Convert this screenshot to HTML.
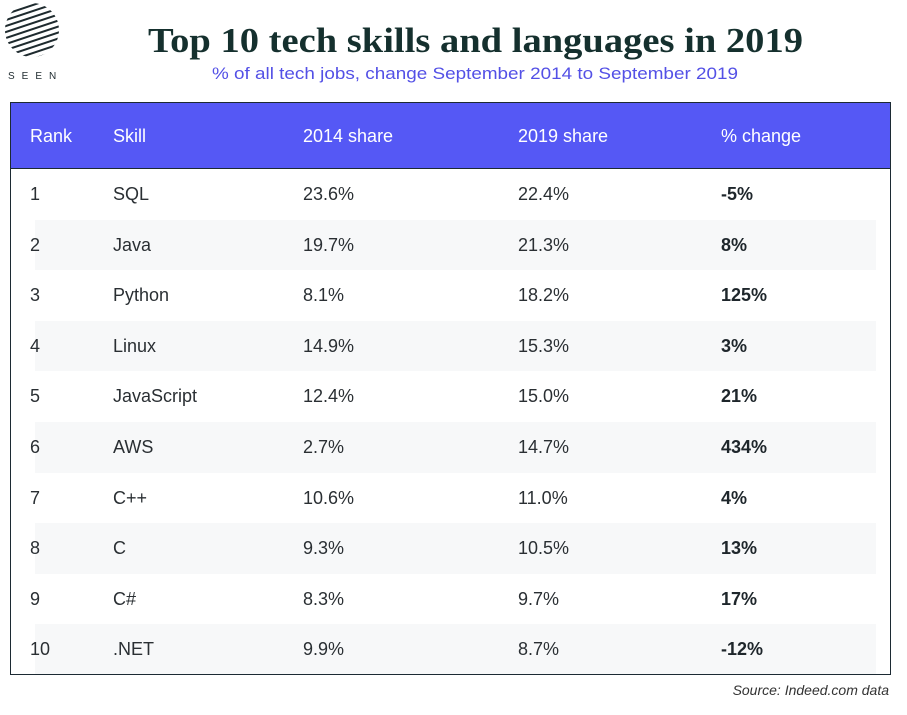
<!DOCTYPE html>
<html><head><meta charset="utf-8"><style>
body{margin:0;width:907px;height:715px;background:#fff;overflow:hidden;font-family:"Liberation Sans",sans-serif;position:relative}
.abs{position:absolute}
#tbl{position:absolute;left:10px;top:102px;width:881px;height:573px;border:1px solid #1c2a33;box-sizing:border-box;overflow:hidden}
.hdr{position:absolute;left:0;top:0;width:100%;height:66px;background:#5558f5;border-bottom:1px solid #1c2a33;box-sizing:border-box}
.hc{position:absolute;top:0;line-height:66px;color:#fff;font-size:18px}
.row{position:absolute;left:0;width:100%;height:50.6px}
.shade{position:absolute;left:24px;right:14px;top:0;bottom:0;background:#f7f8f9}
.c{position:absolute;top:0;line-height:50.6px;font-size:18px;color:#2a2f33}
.b{font-weight:bold;color:#1e262b}
</style></head><body>
<svg class="abs" style="left:0;top:0" width="907" height="100">
<g>
<defs><clipPath id="cc"><circle cx="32" cy="30" r="27"/></clipPath></defs>
<g clip-path="url(#cc)" stroke="#1e2a2e" stroke-width="2">
<line x1="0" y1="10" x2="60" y2="-10"/><line x1="0" y1="16" x2="60" y2="-4"/><line x1="0" y1="22" x2="60" y2="2"/><line x1="0" y1="28" x2="60" y2="8"/><line x1="0" y1="34" x2="60" y2="14"/><line x1="0" y1="40" x2="60" y2="20"/><line x1="0" y1="46" x2="60" y2="26"/><line x1="0" y1="52" x2="60" y2="32"/><line x1="0" y1="58" x2="60" y2="38"/><line x1="0" y1="64" x2="60" y2="44"/><line x1="0" y1="70" x2="60" y2="50"/><line x1="0" y1="76" x2="60" y2="56"/>
</g>
<text x="8" y="79" font-family="Liberation Sans" font-size="10" letter-spacing="7" fill="#1e2a2e">SEEN</text>
</g>
<text x="148" y="52" textLength="655" lengthAdjust="spacingAndGlyphs" font-family="Liberation Serif" font-weight="bold" font-size="35" fill="#15302e">Top 10 tech skills and languages in 2019</text>
<text x="212" y="79" textLength="526" lengthAdjust="spacingAndGlyphs" font-family="Liberation Sans" font-size="17" fill="#5350e6">% of all tech jobs, change September 2014 to September 2019</text>
</svg>
<div id="tbl">
<div class="hdr">
<div class="hc" style="left:19px">Rank</div>
<div class="hc" style="left:102px">Skill</div>
<div class="hc" style="left:292px">2014 share</div>
<div class="hc" style="left:507px">2019 share</div>
<div class="hc" style="left:710px">% change</div>
</div>
</div>
<div class="abs" style="right:18px;top:682px;font-size:14px;font-style:italic;color:#333">Source: Indeed.com data</div>
<script>
const skills=["SQL","Java","Python","Linux","JavaScript","AWS","C++","C","C#",".NET"];
const share2014=["23.6%","19.7%","8.1%","14.9%","12.4%","2.7%","10.6%","9.3%","8.3%","9.9%"];
const share2019=["22.4%","21.3%","18.2%","15.3%","15.0%","14.7%","11.0%","10.5%","9.7%","8.7%"];
const changes=["-5%","8%","125%","3%","21%","434%","4%","13%","17%","-12%"];
const tbl=document.getElementById('tbl');
skills.forEach((s,i)=>{
  const r=document.createElement('div');
  r.className='row';
  r.style.top=(66+i*50.6)+'px';
  
  
  r.innerHTML=(i%2==1)?'<div class="shade"></div>':'';
  const cells=[[19,String(i+1),'',"rank-cell"],[102,s,'',"skill-cell"],[292,share2014[i],'',"share-2014-cell"],[507,share2019[i],'',"share-2019-cell"],[710,changes[i],' b',"change-cell"]];
  cells.forEach(c=>{
    const d=document.createElement('div');
    d.className='c'+c[2];
    d.style.left=c[0]+'px';
    d.textContent=c[1];
    
    
    r.appendChild(d);
  });
  tbl.appendChild(r);
});
</script>
</body></html>
